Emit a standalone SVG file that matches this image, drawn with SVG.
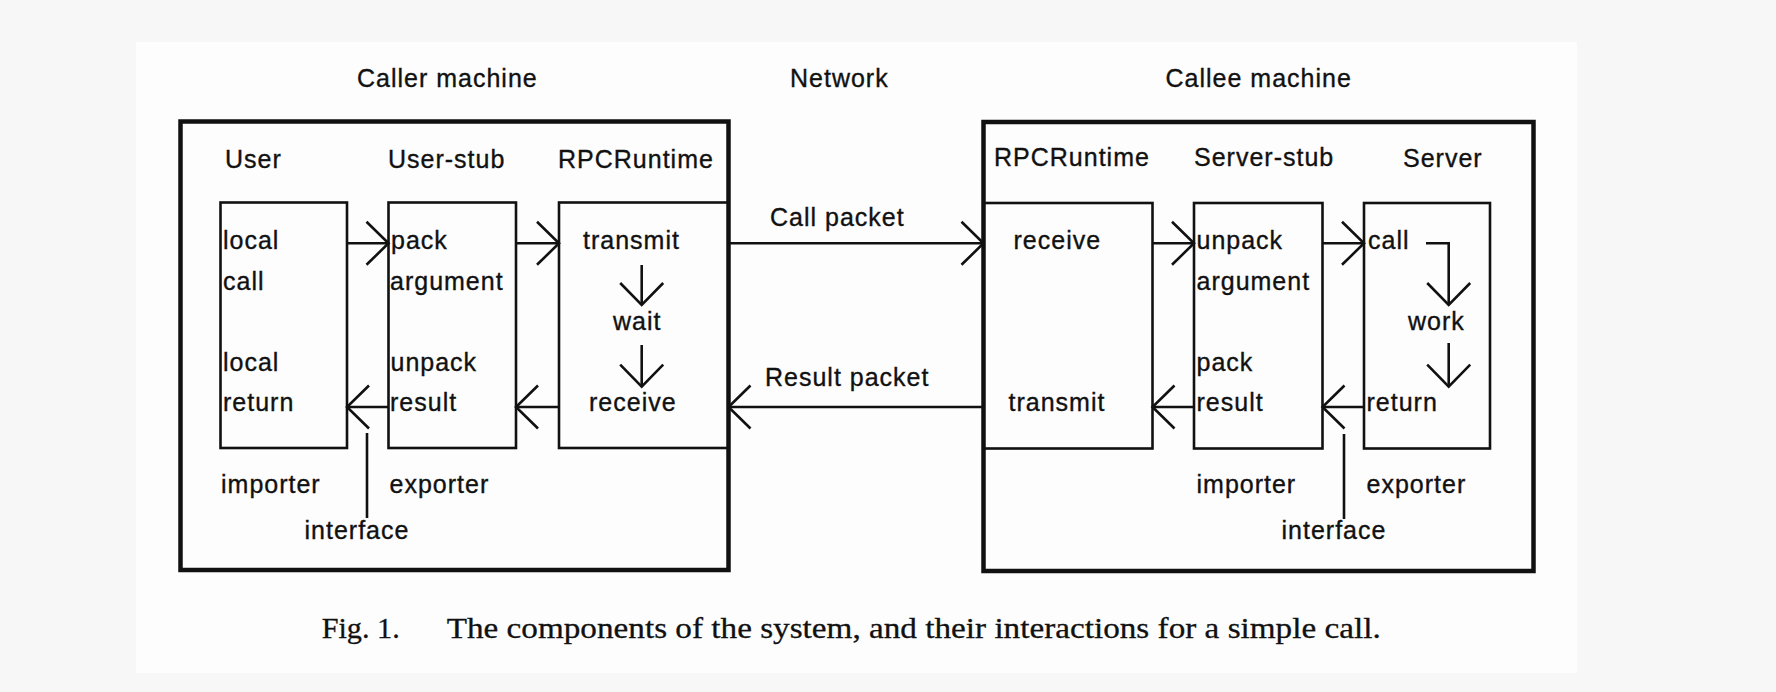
<svg xmlns="http://www.w3.org/2000/svg" width="1776" height="692" viewBox="0 0 1776 692">
<defs>
<style>
.bg{fill:#f7f7f7}
.panel{fill:#fdfdfd}
.outer{fill:none;stroke:#111;stroke-width:4.5}
.inner{fill:none;stroke:#111;stroke-width:2.6}
.conn{fill:none;stroke:#111;stroke-width:2.6}
.t{font-family:"Liberation Sans",Arial,Helvetica,sans-serif;font-size:25px;letter-spacing:1px;fill:#111;stroke:#111;stroke-width:0.35}
.cap{font-family:"Liberation Serif","Times New Roman",serif;font-size:29px;fill:#111;stroke:#111;stroke-width:0.3}
</style>
<marker id="chev" markerUnits="userSpaceOnUse" viewBox="-25 -24 28 48" markerWidth="28" markerHeight="48" refX="0" refY="0" orient="auto">
<path d="M -22 -21.5 L 0 0 L -22 21.5" fill="none" stroke="#111" stroke-width="2.6"/>
</marker>
</defs>
<rect class="bg" x="0" y="0" width="1776" height="692"/>
<rect class="panel" x="136" y="42" width="1441" height="631"/>

<g id="caller-machine">
<rect class="outer" x="180.5" y="121.5" width="548" height="448.5"/>
<text class="t" x="357" y="87">Caller machine</text>
</g>
<g id="callee-machine">
<rect class="outer" x="983.5" y="122" width="550" height="449"/>
<text class="t" x="1165.5" y="87">Callee machine</text>
</g>
<g id="network-label">
<text class="t" x="790" y="87">Network</text>
</g>

<g id="user">
<text class="t" x="225" y="168">User</text>
<rect class="inner" x="220.5" y="202.5" width="126.5" height="245.5"/>
<text class="t" x="223" y="249">local</text>
<text class="t" x="223" y="290">call</text>
<text class="t" x="223" y="371">local</text>
<text class="t" x="223" y="411">return</text>
<text class="t" x="221" y="493">importer</text>
</g>
<g id="user-stub">
<text class="t" x="388" y="168">User-stub</text>
<rect class="inner" x="388.5" y="202.5" width="127.5" height="245.5"/>
<text class="t" x="391" y="249">pack</text>
<text class="t" x="390" y="290">argument</text>
<text class="t" x="390.5" y="371">unpack</text>
<text class="t" x="390" y="411">result</text>
<text class="t" x="389.5" y="493">exporter</text>
</g>
<g id="rpcruntime-caller">
<text class="t" x="558" y="168">RPCRuntime</text>
<rect class="inner" x="559" y="202.5" width="169.5" height="245.5"/>
<text class="t" x="583" y="249">transmit</text>
<text class="t" x="613" y="330">wait</text>
<text class="t" x="589" y="411">receive</text>
</g>
<g id="rpcruntime-callee">
<text class="t" x="994" y="166">RPCRuntime</text>
<rect class="inner" x="983.5" y="203" width="169" height="245.5"/>
<text class="t" x="1013.5" y="249">receive</text>
<text class="t" x="1008.5" y="411">transmit</text>
</g>
<g id="server-stub">
<text class="t" x="1194" y="166">Server-stub</text>
<rect class="inner" x="1194" y="203" width="128.5" height="245.5"/>
<text class="t" x="1196.5" y="249">unpack</text>
<text class="t" x="1196.5" y="290">argument</text>
<text class="t" x="1196.5" y="371">pack</text>
<text class="t" x="1196.5" y="411">result</text>
<text class="t" x="1196.5" y="493">importer</text>
</g>
<g id="server">
<text class="t" x="1403" y="167">Server</text>
<rect class="inner" x="1364" y="203" width="126" height="245.5"/>
<text class="t" x="1368" y="249">call</text>
<text class="t" x="1408" y="330">work</text>
<text class="t" x="1366.5" y="411">return</text>
<text class="t" x="1366.5" y="493">exporter</text>
</g>
<g id="interface-labels">
<text class="t" x="304.5" y="539">interface</text>
<text class="t" x="1281.5" y="539">interface</text>
</g>

<g id="connectors">
<line class="conn" x1="347" y1="243.3" x2="388.5" y2="243.3" marker-end="url(#chev)"/>
<line class="conn" x1="516" y1="243.3" x2="559" y2="243.3" marker-end="url(#chev)"/>
<line class="conn" x1="728.5" y1="243.3" x2="983.5" y2="243.3" marker-end="url(#chev)"/>
<line class="conn" x1="1152.5" y1="243.3" x2="1194" y2="243.3" marker-end="url(#chev)"/>
<line class="conn" x1="1322.5" y1="243.3" x2="1364" y2="243.3" marker-end="url(#chev)"/>
<line class="conn" x1="641.7" y1="265" x2="641.7" y2="305" marker-end="url(#chev)"/>
<line class="conn" x1="641.7" y1="345" x2="641.7" y2="386.7" marker-end="url(#chev)"/>
<path class="conn" d="M 1426 243.3 H 1448.7 V 305" marker-end="url(#chev)"/>
<line class="conn" x1="1448.7" y1="343" x2="1448.7" y2="386.7" marker-end="url(#chev)"/>
<line class="conn" x1="1364" y1="407" x2="1322.5" y2="407" marker-end="url(#chev)"/>
<line class="conn" x1="1194" y1="407" x2="1152.5" y2="407" marker-end="url(#chev)"/>
<line class="conn" x1="983.5" y1="407" x2="728.5" y2="407" marker-end="url(#chev)"/>
<line class="conn" x1="559" y1="407" x2="516" y2="407" marker-end="url(#chev)"/>
<line class="conn" x1="388.5" y1="407" x2="347" y2="407" marker-end="url(#chev)"/>
<line class="conn" x1="367" y1="433" x2="367" y2="518"/>
<line class="conn" x1="1344" y1="434" x2="1344" y2="519"/>
<text class="t" x="770" y="226">Call packet</text>
<text class="t" x="765" y="386">Result packet</text>
</g>

<g id="caption">
<text class="cap" x="321.7" y="638" textLength="78" lengthAdjust="spacingAndGlyphs">Fig. 1.</text>
<text class="cap" x="446.7" y="638" textLength="934" lengthAdjust="spacingAndGlyphs">The components of the system, and their interactions for a simple call.</text>
</g>
</svg>
